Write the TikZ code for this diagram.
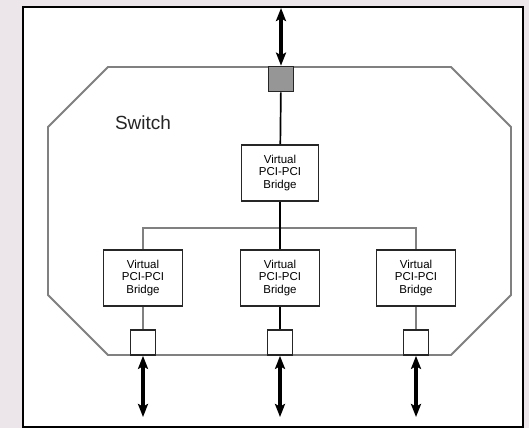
\documentclass[tikz,border=0pt]{standalone}
\usepackage{fontspec}
\setmainfont{Liberation Sans}
\usepackage{xcolor}
\usepackage{tikz}
\usetikzlibrary{positioning, arrows.meta, calc}
\definecolor{pagebg}{RGB}{236,229,234}
\definecolor{shellgray}{RGB}{128,128,128}
\definecolor{portgray}{RGB}{150,150,150}

\begin{document}
\begin{tikzpicture}[x=1pt, y=-1pt,
    bridge/.style={draw=black!85, line width=1.7pt, fill=white, minimum width=79pt,
        minimum height=56pt, inner sep=0pt, align=center,
        font=\fontsize{11.5}{12.5}\selectfont},
    port/.style={draw=black!85, line width=1.7pt, fill=white, minimum size=25pt, inner sep=0pt},
    link/.style={line width=1.7pt, draw=black},
    graylink/.style={line width=1.9pt, draw=shellgray},
    io/.style={line width=3.4pt, {Stealth[length=13pt,width=10pt,inset=2.5pt]}-{Stealth[length=13pt,width=10pt,inset=2.5pt]}}]
    \useasboundingbox (0,0) rectangle (529,428);
    \fill[pagebg] (0,0) rectangle (529,428);
    \draw[line width=2pt, fill=white] (23,7) rectangle (523,427);
    % switch outline
    \draw[graylink] (108,67) -- (451,67) -- (511,127) -- (511,295) -- (451,355)
        -- (108,355) -- (48,295) -- (48,127) -- cycle;
    \node[font=\fontsize{19}{20}\selectfont, text=black!85] (sw) at (143,123) {Switch};
    % upstream port and bridge
    \node[port, fill=portgray] (up) at (281,79) {};
    \node[bridge, minimum width=77pt] (top) at (280,173) {Virtual\\PCI-PCI\\Bridge};
    % downstream bridges
    \node[bridge] (left) at (143,278) {Virtual\\PCI-PCI\\Bridge};
    \node[bridge] (mid) at (280,278) {Virtual\\PCI-PCI\\Bridge};
    \node[bridge] (right) at (416,278) {Virtual\\PCI-PCI\\Bridge};
    % downstream ports
    \node[port] (pl) at (143,342.5) {};
    \node[port] (pm) at (280,342.5) {};
    \node[port] (pr) at (416,342.5) {};
    \coordinate (busl) at (143,228);
    \coordinate (busr) at (416,228);
    \coordinate (iotop) at (281,8);
    \coordinate (iol) at (143,417);
    \coordinate (iom) at (280,417);
    \coordinate (ior) at (416,417);
    \draw[graylink] (left) -- (busl) -- (busr) -- (right);
    \draw[link] (up) -- (top);
    \draw[link] (top) -- (mid);
    \draw[graylink] (left) -- (pl);
    \draw[link] (mid) -- (pm);
    \draw[graylink] (right) -- (pr);
    \draw[io] (iotop) -- (up.north);
    \draw[io] (pl.south) -- (iol);
    \draw[io] (pm.south) -- (iom);
    \draw[io] (pr.south) -- (ior);
\end{tikzpicture}
\end{document}
